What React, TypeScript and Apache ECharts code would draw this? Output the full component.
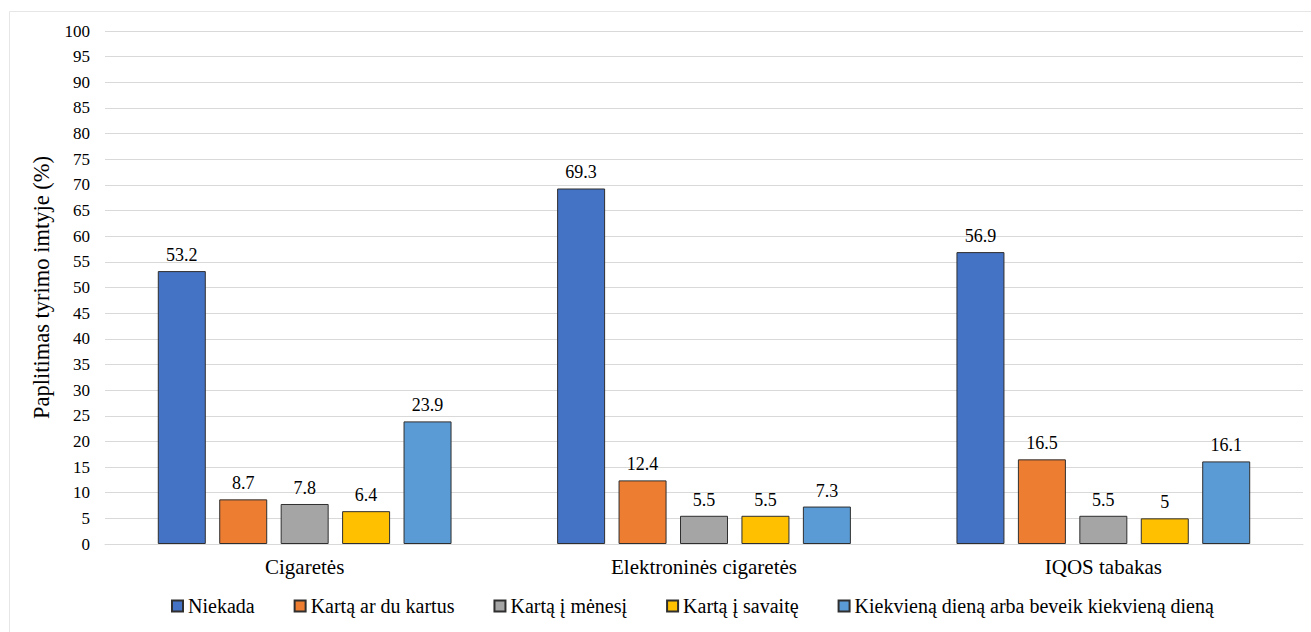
import React, { useEffect, useRef } from "react";
import * as echarts from "echarts";

// Survey prevalence of tobacco/nicotine product use, by frequency
const categories = ["Cigaretės", "Elektroninės cigaretės", "IQOS tabakas"];
const seriesNames = [
  "Niekada",
  "Kartą ar du kartus",
  "Kartą į mėnesį",
  "Kartą į savaitę",
  "Kiekvieną dieną arba beveik kiekvieną dieną",
];
const niekada = [53.2, 69.3, 56.9];
const kartaArDu = [8.7, 12.4, 16.5];
const kartaMenesi = [7.8, 5.5, 5.5];
const kartaSavaite = [6.4, 5.5, 5];
const kasdien = [23.9, 7.3, 16.1];
const seriesValues = [niekada, kartaArDu, kartaMenesi, kartaSavaite, kasdien];
const colors = ["#4472C4", "#ED7D31", "#A5A5A5", "#FFC000", "#5B9BD5"];

const FONT = "Liberation Serif";

export default function App() {
  const ref = useRef<HTMLDivElement>(null);

  useEffect(() => {
    if (!ref.current) return;
    const chart = echarts.init(ref.current, undefined, { renderer: "svg" });
    chart.setOption({
      animation: false,
      backgroundColor: "#ffffff",
      textStyle: { fontFamily: FONT, color: "#000" },
      graphic: [
        {
          type: "rect",
          shape: { x: 9.5, y: 11.5, width: 1320, height: 640 },
          style: { fill: "none", stroke: "#E6E6E6", lineWidth: 1 },
          silent: true,
        },
      ],
      grid: { left: 105, right: 8, top: 31, bottom: 88 },
      legend: {
        left: 166,
        top: 591,
        itemWidth: 11,
        itemHeight: 11,
        itemGap: 39,
        icon: "rect",
        textStyle: { fontFamily: FONT, fontSize: 20, color: "#000" },
        data: seriesNames,
      },
      xAxis: {
        type: "category",
        data: categories,
        axisLine: { lineStyle: { color: "#D9D9D9", width: 1 } },
        axisTick: { show: false },
        axisLabel: { fontFamily: FONT, fontSize: 21, color: "#000", margin: 12 },
      },
      yAxis: {
        type: "value",
        min: 0,
        max: 100,
        interval: 5,
        name: "Paplitimas tyrimo imtyje (%)",
        nameLocation: "middle",
        nameGap: 52,
        nameTextStyle: { fontFamily: FONT, fontSize: 22.5, color: "#000" },
        axisLine: { show: false },
        axisTick: { show: false },
        axisLabel: { fontFamily: FONT, fontSize: 17, color: "#000", margin: 15 },
        splitLine: { lineStyle: { color: "#D9D9D9", width: 1 } },
      },
      series: seriesNames.map((name, i) => ({
        name,
        type: "bar",
        data: seriesValues[i],
        barWidth: 48,
        barGap: "28%",
        itemStyle: { color: colors[i], borderColor: "#2F2F2F", borderWidth: 1 },
        label: {
          show: true,
          position: "top",
          distance: 7,
          fontFamily: FONT,
          fontSize: 18,
          color: "#000",
        },
      })),
    });
    return () => chart.dispose();
  }, []);

  return (
    <div
      ref={ref}
      style={{ position: "absolute", left: 0, top: 0, width: 1311, height: 632 }}
    />
  );
}
